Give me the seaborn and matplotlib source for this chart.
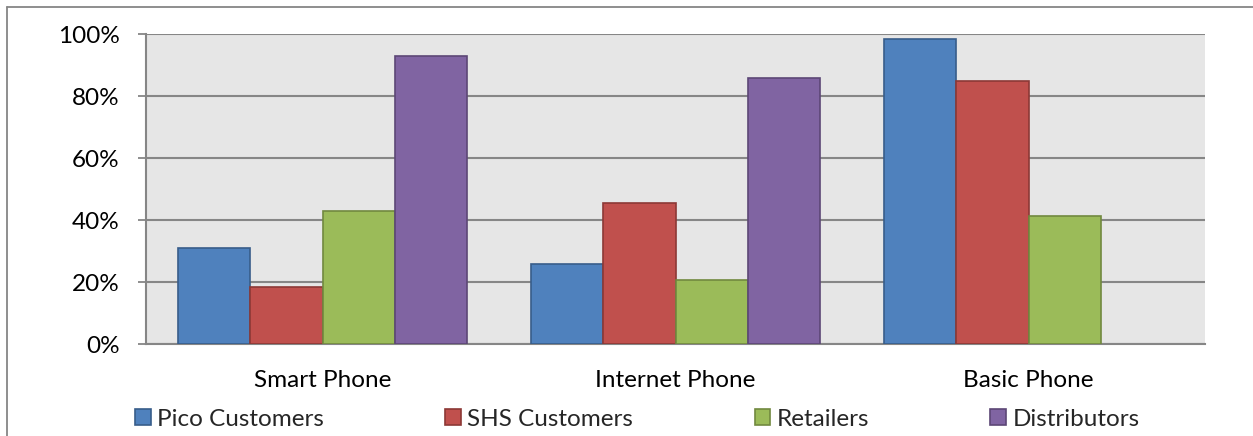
import matplotlib
matplotlib.use("Agg")
import matplotlib.pyplot as plt
import matplotlib.patches as mpatches
import seaborn as sns
import pandas as pd

# Share of respondents owning each phone type, by stakeholder group
categories = ["Smart Phone", "Internet Phone", "Basic Phone"]
groups = ["Pico Customers", "SHS Customers", "Retailers", "Distributors"]
pico_customers = [31.1, 25.9, 98.5]
shs_customers = [18.3, 45.4, 84.9]
retailers = [42.9, 20.7, 41.2]
distributors = [93.0, 85.8, None]  # no distributor figure for basic phones
y_ticks = [0, 20, 40, 60, 80, 100]
y_tick_labels = ["0%", "20%", "40%", "60%", "80%", "100%"]

fill_colors = ["#4F81BD", "#C0504D", "#9BBB59", "#8064A2"]
edge_colors = ["#385D8A", "#8C3836", "#71893F", "#5C4776"]

rows = []
for grp, vals in zip(groups, [pico_customers, shs_customers, retailers, distributors]):
    for cat, v in zip(categories, vals):
        if v is not None:
            rows.append({"category": cat, "group": grp, "share": v})
df = pd.DataFrame(rows)

sns.set_theme(style="white")
plt.rcParams["font.family"] = ["Lato", "DejaVu Sans"]
FS = 17.5

fig = plt.figure(figsize=(12.53, 4.36), dpi=100)
ax = fig.add_axes([146 / 1253, 1 - 344 / 436, (1205 - 146) / 1253, (344 - 34) / 436])

sns.barplot(
    data=df, x="category", y="share", hue="group",
    order=categories, hue_order=groups, palette=fill_colors,
    width=0.82, dodge=True, errorbar=None, saturation=1,
    legend=False, ax=ax, zorder=3,
)

# darker outlines per series
n_cat = len(categories)
for i, container in enumerate(ax.containers):
    for bar in container:
        bar.set_edgecolor(edge_colors[i])
        bar.set_linewidth(1.2)

ax.set_facecolor("#E6E6E6")
ax.set_ylim(0, 100)
ax.set_xlim(-0.5, n_cat - 0.5)
ax.set_yticks(y_ticks)
ax.set_yticklabels(y_tick_labels, fontsize=FS, color="black")
ax.set_xlabel("")
ax.set_ylabel("")
ax.yaxis.grid(True, color="#868686", linewidth=1.5, zorder=1)
ax.set_axisbelow(True)

# category-boundary ticks on the x axis, names centred under each group
ax.set_xticks([i - 0.5 for i in range(n_cat + 1)], minor=False)
ax.set_xticklabels([])
ax.set_xticks(range(n_cat), minor=True)
ax.set_xticklabels(categories, minor=True, fontsize=FS, color="black")
ax.tick_params(axis="x", which="major", length=6, width=1.3, color="#868686", direction="out")
ax.tick_params(axis="x", which="minor", length=0, pad=19)
ax.tick_params(axis="y", length=6, width=1.3, color="#868686", direction="out", pad=13, left=True)

for side in ["top", "right"]:
    ax.spines[side].set_visible(False)
for side in ["left", "bottom"]:
    ax.spines[side].set_color("#868686")
    ax.spines[side].set_linewidth(1.5)

handles = [mpatches.Patch(facecolor=fc, edgecolor=ec, linewidth=1.2, label=g)
           for g, fc, ec in zip(groups, fill_colors, edge_colors)]
fig.legend(
    handles=handles, loc="center left", bbox_to_anchor=(135 / 1253, 1 - 419 / 436),
    ncol=4, frameon=False, fontsize=FS, handlelength=0.65, handleheight=0.65,
    handletextpad=0.25, columnspacing=5.0, borderaxespad=0, borderpad=0,
)

# outer chart frame (left and top edges)
fig.add_artist(plt.Line2D([7 / 1253, 7 / 1253], [0, 1 - 7 / 436], transform=fig.transFigure,
                          color="#868686", linewidth=1.3))
fig.add_artist(plt.Line2D([7 / 1253, 1], [1 - 7 / 436, 1 - 7 / 436], transform=fig.transFigure,
                          color="#868686", linewidth=1.3))

fig.savefig("out.png", dpi=100, facecolor="white")
